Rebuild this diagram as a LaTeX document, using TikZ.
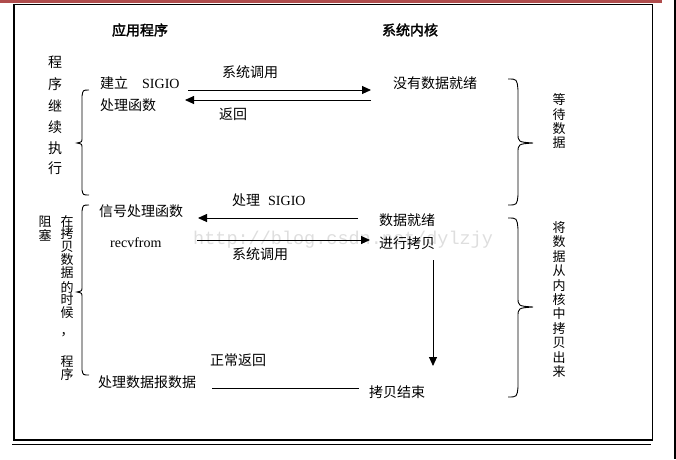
\documentclass[tikz,border=0pt]{standalone}
\usepackage{fontspec}
\setmainfont{Liberation Serif}
\newfontfamily\cjk{Noto Sans CJK SC}
\newfontfamily\cjkbold[FakeBold=2]{Noto Sans CJK SC}
\newfontfamily\wmfont{Liberation Mono}
\usetikzlibrary{arrows.meta}
\newcommand{\zh}[1]{{\cjk #1}}

\begin{document}
\begin{tikzpicture}[x=1pt,y=-1pt,
  txt/.style={inner sep=0pt,anchor=west,font=\fontsize{14}{14}\selectfont},
  title/.style={inner sep=0pt,font=\cjkbold\fontsize{14}{14}\selectfont},
  vch/.style={inner sep=0pt,font=\cjk\fontsize{13}{13}\selectfont},
  vchbig/.style={inner sep=0pt,font=\cjk\fontsize{14}{14}\selectfont},
  arr/.style={line width=0.9pt,-{Triangle[length=9pt,width=8pt]}},
  plain/.style={line width=0.9pt},
  brace/.style={line width=0.9pt},
  frame/.style={line width=1.4pt}]
\useasboundingbox (0,0) rectangle (676,459);

% page decorations: red top rule, dark right edge, frame and its underline
\fill[red!55!black!70!white] (0,0) rectangle (662,2.5);
\fill[black] (673.5,0) rectangle (676,459);
\draw[frame] (14,4.5) rectangle (652.5,440);
\draw[frame] (12,444.5) -- (651,444.5);

% faint watermark
\node[inner sep=0pt,anchor=west,text=black!13,font=\wmfont\fontsize{18.5}{18.5}\selectfont]
  (wm) at (193,240) {http://blog.csdn.net/dylzjy};

% column titles
\node[title] (app) at (140,30) {应用程序};
\node[title] (ker) at (410,30) {系统内核};

% application side
\node[txt] (setup) at (100,83) {\zh{建立}\hspace{14pt}SIGIO};
\node[txt] (hfunc) at (100,105) {\zh{处理函数}};
\node[txt] (sighandler) at (99,211) {\zh{信号处理函数}};
\node[txt] (recv) at (110,243) {recvfrom};
\node[txt] (proc) at (98,382) {\zh{处理数据报数据}};

% kernel side
\node[txt] (nodata) at (393,83) {\zh{没有数据就绪}};
\node[txt] (ready) at (379,220) {\zh{数据就绪}};
\node[txt] (copy) at (379,243) {\zh{进行拷贝}};
\node[txt] (done) at (369,392) {\zh{拷贝结束}};

% connector labels
\node[txt] (l1) at (222,72) {\zh{系统调用}};
\node[txt] (l2) at (219,114) {\zh{返回}};
\node[txt] (l3) at (232,200) {\zh{处理}\hspace{8pt}SIGIO};
\node[txt] (l4) at (232,254) {\zh{系统调用}};
\node[txt] (l5) at (210,360) {\zh{正常返回}};

% connector end points
\coordinate (a1s) at (188,90);  \coordinate (a1e) at (371,90);
\coordinate (a2s) at (371,100); \coordinate (a2e) at (185,100);
\coordinate (a3s) at (358,218); \coordinate (a3e) at (198,218);
\coordinate (a4s) at (197,240); \coordinate (a4e) at (370,240);
\coordinate (a5s) at (433,260); \coordinate (a5e) at (433,366);
\coordinate (a6s) at (359,388); \coordinate (a6e) at (212,388);

\draw[arr] (a1s) -- (a1e);
\draw[arr] (a2s) -- (a2e);
\draw[arr] (a3s) -- (a3e);
\draw[arr] (a4s) -- (a4e);
\draw[arr] (a5s) -- (a5e);
\draw[plain] (a6s) -- (a6e);

% braces
\draw[brace] (89,90) .. controls (83,90) .. (82,96) -- (82,138)
  .. controls (82,142) .. (77,143) .. controls (82,144) .. (82,148)
  -- (82,190) .. controls (83,195) .. (89,195);
\draw[brace] (89,205) .. controls (83,205) .. (82,211) -- (82,287)
  .. controls (82,291) .. (77,292) .. controls (82,293) .. (82,297)
  -- (82,370) .. controls (83,375) .. (89,375);
\draw[brace] (508,79) .. controls (517,79) .. (518,90) -- (518,133)
  .. controls (518,142) .. (533,143) .. controls (518,144) .. (518,153)
  -- (518,195) .. controls (517,205) .. (508,205);
\draw[brace] (508,218) .. controls (517,218) .. (518,229) -- (518,297)
  .. controls (518,306) .. (533,307) .. controls (518,308) .. (518,317)
  -- (518,387) .. controls (517,397) .. (508,397);

% vertical captions
\foreach \c/\y [count=\i] in {程/62,序/84,继/106,续/127,执/148,行/168}
  \node[vchbig] (va\i) at (55,\y) {\c};
\foreach \c/\y [count=\i] in {阻/222,塞/235}
  \node[vch] (vb\i) at (45,\y) {\c};
\foreach \c/\y [count=\i] in {在/222,拷/234,贝/247,数/260,据/273,的/287,时/300,候/313,，/335,程/362,序/375}
  \node[vch] (vc\i) at (67,\y) {\c};
\foreach \c/\y [count=\i] in {等/100,待/115,数/129,据/143}
  \node[vch] (vd\i) at (559,\y) {\c};
\foreach \c/\y [count=\i] in {将/228,数/242,据/257,从/271,内/286,核/300,中/314,拷/329,贝/343,出/358,来/372}
  \node[vch] (ve\i) at (559,\y) {\c};
\end{tikzpicture}
\end{document}
